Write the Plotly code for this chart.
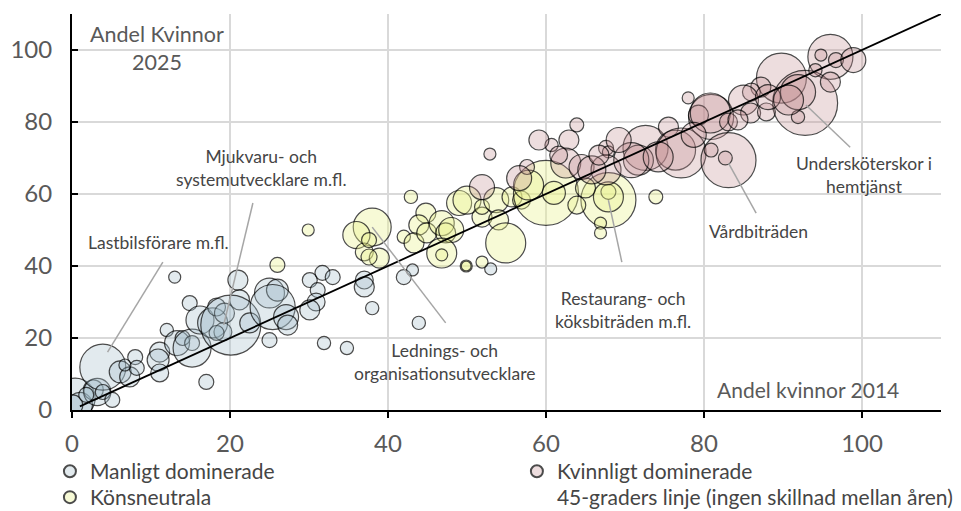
import plotly.graph_objects as go

# ---- data: (andel kvinnor 2014, andel kvinnor 2025, antal sysselsatta i tusental)
man_x = [0.4, 1.0, 2.7, 3.2, 3.9, 3.9, 5.1, 6.1, 7.3, 8.0, 8.2, 6.7, 13.0, 12.0, 11.1, 10.9, 11.1,
         13.3, 14.0, 15.2, 15.2, 17.0, 14.9, 16.2, 17.8, 18.3, 19.3, 21.0, 21.2, 19.1, 18.3, 20.1,
         22.5, 25.0, 26.0, 25.4, 27.1, 27.3, 25.0, 30.1, 31.1, 31.7, 33.0, 30.9, 30.1, 37.0, 37.0,
         38.0, 42.0, 43.1, 43.9, 53.0, 31.9, 34.8, 0.1, 1.8]
man_y = [3.3, 1.4, 5.6, 5.0, 11.9, 5.0, 2.8, 10.6, 9.2, 14.7, 11.7, 12.5, 36.9, 22.2, 16.1, 13.9, 10.3,
         18.6, 20.0, 18.6, 17.2, 7.8, 29.7, 25.0, 24.2, 28.6, 26.9, 36.1, 30.6, 21.7, 21.4, 23.6,
         24.2, 32.5, 33.3, 28.6, 25.8, 23.6, 19.4, 36.1, 33.3, 38.1, 36.9, 30.0, 27.8, 36.1, 34.2,
         28.3, 36.9, 38.9, 24.2, 39.2, 18.6, 17.2, 1.4, 4.2]
man_n = [100, 39, 25, 46, 132, 14, 14, 30, 25, 14, 14, 9, 9, 11, 25, 30, 20,
         39, 14, 14, 90, 14, 14, 49, 56, 20, 25, 25, 25, 20, 14, 225,
         25, 56, 30, 127, 39, 25, 14, 14, 14, 14, 14, 20, 25, 20, 25,
         11, 14, 9, 11, 9, 11, 11, 25, 14]

neu_x = [26.0, 29.9, 38.0, 36.0, 37.0, 37.6, 38.9, 37.6, 42.0, 42.9, 44.8, 43.9, 43.3, 44.9, 46.8,
         47.3, 48.0, 46.8, 46.8, 49.9, 49.9, 51.9, 49.0, 50.0, 51.9, 51.9, 53.7, 54.0, 54.9, 55.7,
         56.9, 60.0, 61.0, 67.9, 67.9, 67.9, 73.9, 66.9, 66.9, 63.9, 57.8, 65.0]
neu_y = [40.3, 50.0, 50.8, 48.6, 43.9, 47.2, 42.2, 42.5, 48.1, 59.2, 54.7, 51.4, 46.4, 49.2, 51.9,
         49.2, 50.0, 43.6, 43.1, 40.0, 40.0, 41.1, 57.5, 58.3, 53.6, 56.4, 58.3, 52.8, 46.4, 59.2,
         58.3, 60.3, 60.3, 58.3, 60.6, 59.2, 59.2, 51.9, 49.2, 56.9, 62.5, 61.7]
neu_n = [14, 9, 90, 46, 20, 14, 25, 16, 11, 11, 25, 25, 25, 25, 39,
         25, 39, 56, 9, 9, 6, 9, 39, 49, 25, 14, 39, 25, 100, 25,
         20, 264, 33, 189, 14, 56, 12, 9, 9, 20, 56, 25]

kv_x = [51.9, 52.9, 63.9, 60.7, 62.9, 62.5, 64.5, 67.6, 67.9, 67.6, 65.8, 57.6, 72.6, 71.7, 75.5,
        76.4, 77.1, 80.9, 79.3, 78.0, 83.1, 82.7, 80.9, 70.8, 74.2, 96.0, 94.8, 96.7, 98.9, 89.8,
        92.8, 91.9, 91.9, 96.0, 94.1, 87.2, 86.0, 85.0, 85.9, 87.9, 88.1, 80.8, 83.1, 59.1, 56.6,
        69.2, 90.7, 84.3, 78.7, 66.7, 61.6]
kv_y = [61.9, 71.1, 79.2, 73.6, 75.0, 68.6, 67.5, 72.8, 71.7, 66.7, 66.7, 67.5, 72.8, 69.4, 78.6,
        72.2, 71.4, 81.4, 81.9, 86.7, 69.4, 70.0, 72.2, 69.4, 70.3, 98.1, 98.6, 97.2, 97.2, 92.2,
        85.3, 88.3, 81.4, 91.1, 94.4, 89.7, 88.3, 86.1, 82.5, 82.8, 86.9, 82.5, 80.0, 75.0, 64.4,
        75.0, 86.1, 80.6, 76.4, 70.8, 70.8]
kv_n = [39, 9, 12, 11, 25, 56, 39, 14, 9, 56, 49, 14, 127, 56, 25,
        100, 156, 127, 25, 9, 189, 12, 12, 77, 56, 127, 9, 14, 39, 156,
        264, 77, 11, 25, 11, 25, 20, 56, 25, 20, 39, 100, 20, 25, 39,
        39, 56, 25, 39, 25, 20]

diag_x = [1, 110]
diag_y = [1, 110]

ticks = [0, 20, 40, 60, 80, 100]

callout_text = ["Lastbilsförare m.fl.", "Mjukvaru- och<br>systemutvecklare m.fl.",
                "Lednings- och<br>organisationsutvecklare", "Restaurang- och<br>köksbiträden m.fl.",
                "Vårdbiträden", "Undersköterskor i<br>hemtjänst"]
callout_tx = [10.9, 24.0, 47.2, 69.7, 86.9, 100.3]
callout_ty = [46.4, 67.2, 13.3, 27.8, 49.7, 65.3]
line_x0 = [11.5, 22.9, 47.3, 69.6, 86.6, 98.5]
line_y0 = [41.1, 57.5, 24.2, 41.1, 54.7, 73.0]
line_x1 = [4.5, 19.2, 38.0, 67.9, 83.1, 92.9]
line_y1 = [16.1, 23.6, 50.8, 58.3, 68.6, 84.7]

FONT = "Lato"
GREY = "#595959"
DARK = "#454545"

fig = go.Figure()


def bubbles(x, y, n, name, fill, legend):
    fig.add_trace(go.Scatter(
        x=x, y=y, mode="markers", name=name, legend=legend,
        marker=dict(size=n, sizemode="area", sizeref=0.125, color=fill,
                    line=dict(color="black", width=1.2)),
        hoverinfo="x+y"))


bubbles(man_x, man_y, man_n, "Manligt dominerade", "rgba(165,190,203,0.45)", "legend")
bubbles(neu_x, neu_y, neu_n, "Könsneutrala", "rgba(236,244,140,0.5)", "legend3")
bubbles(kv_x, kv_y, kv_n, "Kvinnligt dominerade", "rgba(196,140,146,0.42)", "legend2")

fig.add_trace(go.Scatter(x=diag_x, y=diag_y, mode="lines", showlegend=False,
                         line=dict(color="black", width=1.8), hoverinfo="skip"))
fig.add_trace(go.Scatter(x=[None], y=[None], mode="lines", legend="legend4",
                         name="45-graders linje (ingen skillnad mellan åren)",
                         line=dict(color="rgba(0,0,0,0)", width=1)))

for t, tx, ty, x0, y0, x1, y1 in zip(callout_text, callout_tx, callout_ty,
                                      line_x0, line_y0, line_x1, line_y1):
    fig.add_shape(type="line", x0=x0, y0=y0, x1=x1, y1=y1, xref="x", yref="y",
                  line=dict(color="#a6a6a6", width=1.5))
    fig.add_annotation(x=tx, y=ty, text=t, showarrow=False,
                       font=dict(family=FONT, size=17.5, color=DARK))

fig.add_annotation(x=10.7, y=100.5, text="Andel Kvinnor<br>2025", showarrow=False,
                   font=dict(family=FONT, size=21.5, color=GREY))
fig.add_annotation(x=93.2, y=5.6, text="Andel kvinnor 2014", showarrow=False,
                   font=dict(family=FONT, size=21, color=GREY))

axis_common = dict(range=[0, 110], tickvals=ticks, showgrid=True, gridcolor="#d9d9d9",
                   gridwidth=1.5, zeroline=False, showline=True, linecolor="black",
                   linewidth=2, tickcolor="black", ticklen=6, tickwidth=2, automargin=False,
                   tickfont=dict(family=FONT, size=24, color=GREY))
fig.update_xaxes(**axis_common, ticks="outside", ticklabelstandoff=5)
fig.update_yaxes(**axis_common, ticks="inside", ticklabelstandoff=13)

leg_common = dict(orientation="v", xref="container", yref="container", xanchor="left",
                  yanchor="top", itemsizing="constant", tracegroupgap=0,
                  font=dict(family=FONT, size=21, color=DARK), bgcolor="rgba(0,0,0,0)")

fig.update_layout(
    width=953, height=503,
    margin=dict(l=64, r=20, t=6, b=101, autoexpand=False),
    plot_bgcolor="white", paper_bgcolor="white",
    font=dict(family=FONT, color=GREY),
    legend=dict(leg_common, x=0.044, y=0.119),
    legend2=dict(leg_common, x=0.534, y=0.119),
    legend3=dict(leg_common, x=0.044, y=0.0676),
    legend4=dict(leg_common, x=0.534, y=0.0676),
)

fig.write_html("out.html")
